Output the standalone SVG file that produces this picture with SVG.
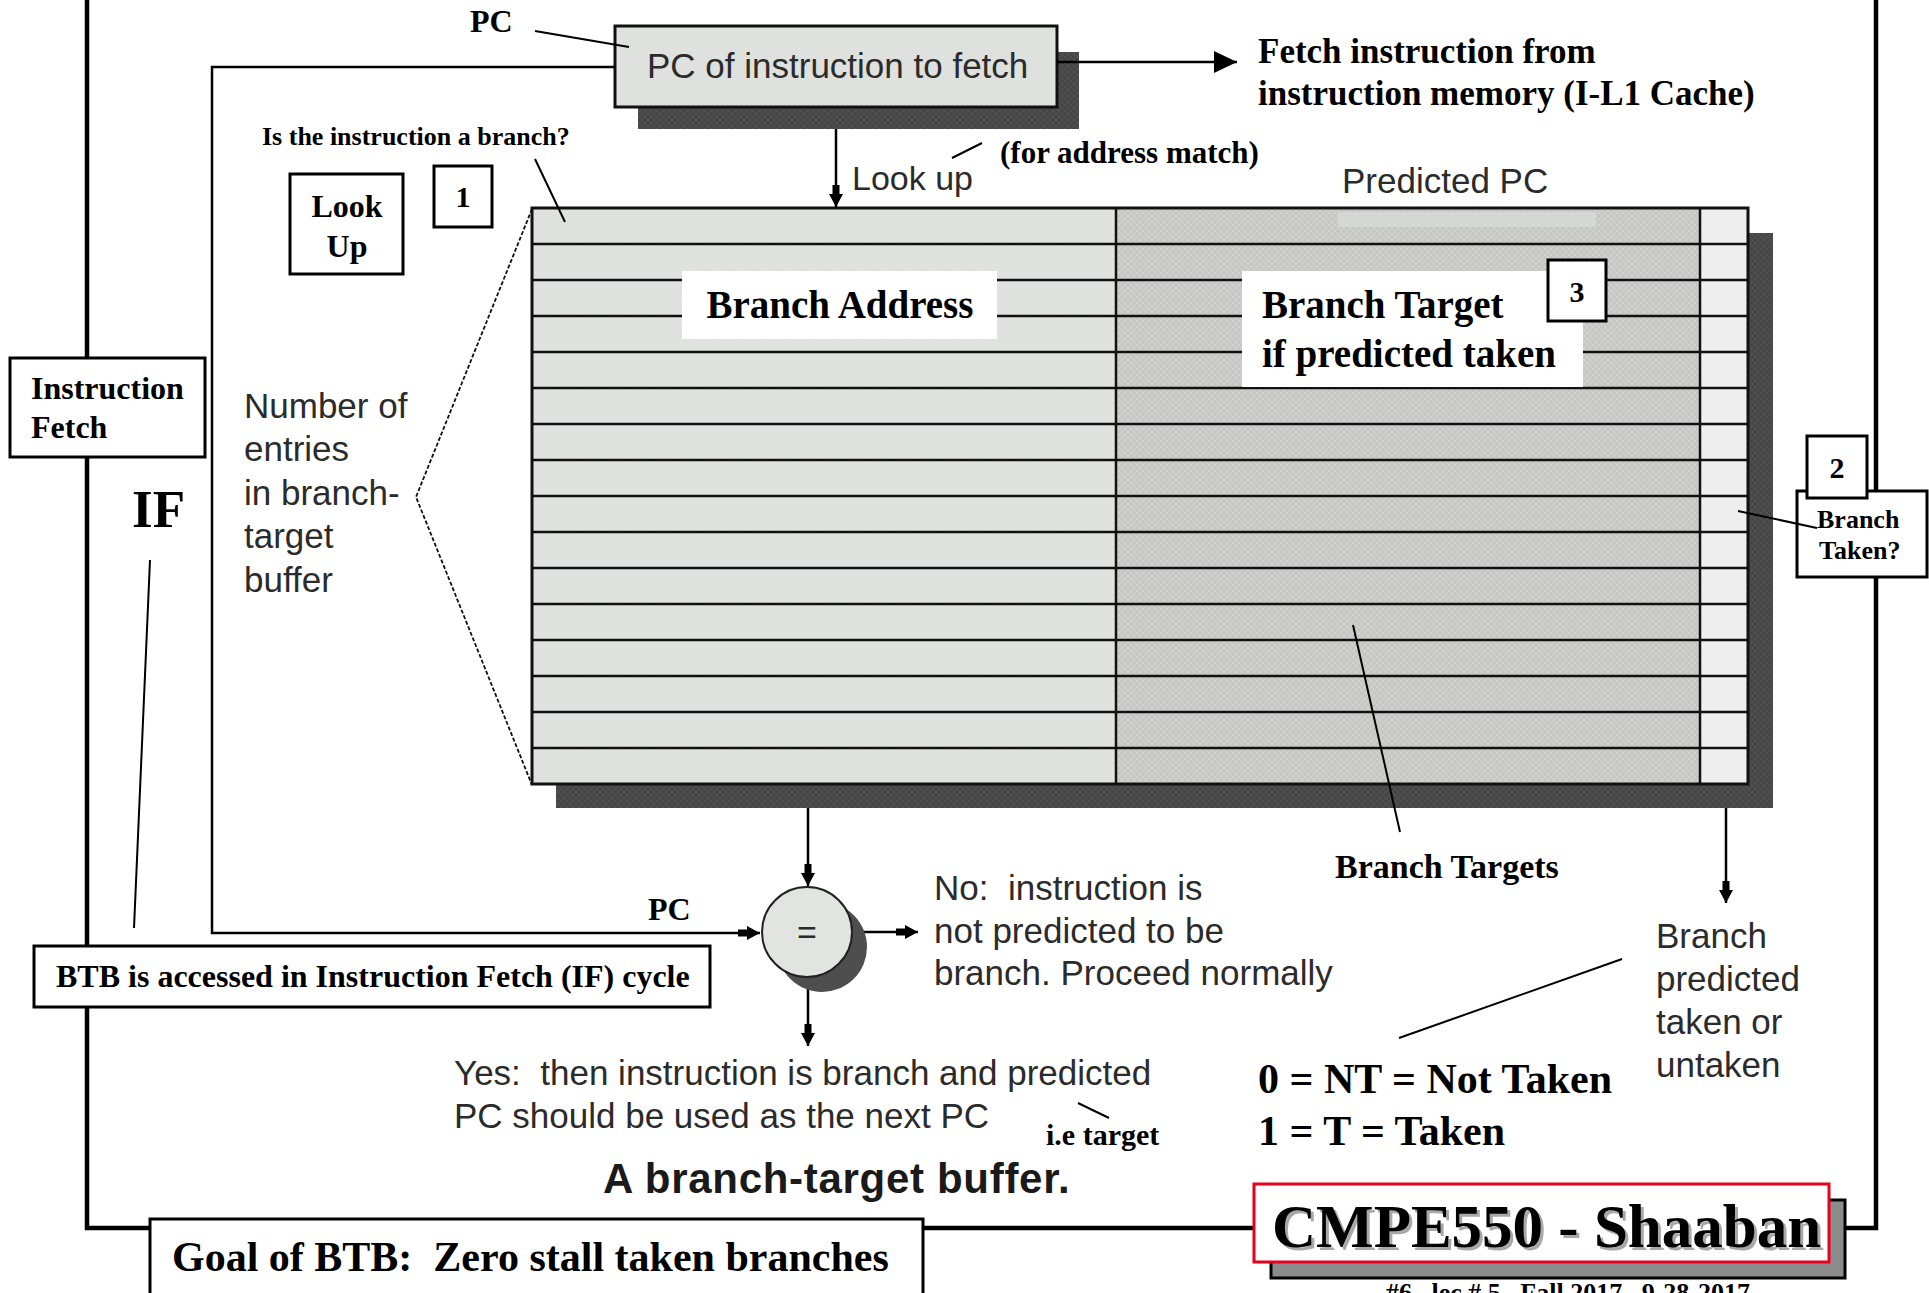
<svg xmlns="http://www.w3.org/2000/svg" width="1929" height="1293" viewBox="0 0 1929 1293">
<defs>
<style>
.tb{font-family:"Liberation Serif","Times New Roman",serif;font-weight:bold;fill:#000}
.hs{font-family:"Liberation Sans",Arial,sans-serif;fill:#2b2b2b}
.bx{fill:#fff;stroke:#000;stroke-width:3}
.ln{stroke:#000;stroke-width:2.5;fill:none}
.thin{stroke:#000;stroke-width:2;fill:none}
.row{stroke:#111;stroke-width:2.5}
</style>
<pattern id="hatch" width="6" height="6" patternUnits="userSpaceOnUse">
<rect width="6" height="6" fill="#c6c6c4"/>
<path d="M0,0 L6,6 M6,0 L0,6" stroke="#d2d2cf" stroke-width="1"/>
</pattern>
<pattern id="lite" width="6" height="6" patternUnits="userSpaceOnUse">
<rect width="6" height="6" fill="#dee1dd"/>
<path d="M0,0 L6,6" stroke="#e4e6e2" stroke-width="1"/>
</pattern>
<pattern id="dark" width="6" height="6" patternUnits="userSpaceOnUse">
<rect width="6" height="6" fill="#464646"/>
<path d="M0,0 L6,6 M6,0 L0,6" stroke="#525252" stroke-width="1"/>
</pattern>
<marker id="bolt" viewBox="-24 -8 24 16" markerWidth="24" markerHeight="16" refX="0" refY="0" orient="auto" markerUnits="userSpaceOnUse">
<path d="M-22,-3.5 L-13,-3.5 L-13,-7 L0,0 L-13,7 L-13,3.5 L-22,3.5 Z" fill="#000"/>
</marker>
<marker id="tri" viewBox="-24 -12 24 24" markerWidth="24" markerHeight="24" refX="0" refY="0" orient="auto" markerUnits="userSpaceOnUse">
<path d="M-23,-11 L0,0 L-23,11 Z" fill="#000"/>
</marker>
</defs>
<rect width="1929" height="1293" fill="#fff"/>

<!-- outer frame -->
<path d="M87,0 V1228 H1876 V0" fill="none" stroke="#000" stroke-width="4.5"/>

<!-- PC box -->
<g id="pc-box">
<rect x="638" y="52" width="441" height="77" fill="url(#dark)"/>
<rect x="615" y="26" width="442" height="81" fill="#dfe1de" stroke="#111" stroke-width="3"/>
<text class="hs" x="647" y="78" font-size="35">PC of instruction to fetch</text>
</g>
<text class="tb" x="470" y="32" font-size="32">PC</text>

<g id="fetch-label">
<text class="tb" x="1258" y="63" font-size="35">Fetch instruction from</text>
<text class="tb" x="1258" y="105" font-size="35">instruction memory (I-L1 Cache)</text>
</g>

<text class="tb" x="1000" y="163" font-size="31">(for address match)</text>
<text class="hs" x="852" y="190" font-size="34">Look up</text>
<text class="hs" x="1342" y="193" font-size="35">Predicted PC</text>
<text class="tb" x="262" y="145" font-size="26">Is the instruction a branch?</text>

<!-- BTB table -->
<g id="btb-table">
<rect x="556" y="233" width="1217" height="575" fill="url(#dark)"/>
<rect x="532" y="208" width="584" height="576" fill="url(#lite)"/>
<rect x="1116" y="208" width="584" height="576" fill="url(#hatch)"/>
<rect x="1700" y="208" width="48" height="576" fill="#eeeeee"/>
<rect x="1338" y="212" width="258" height="15" fill="#d4d7d2"/>
<g class="row">
<line x1="532" y1="244" x2="1748" y2="244"/>
<line x1="532" y1="280" x2="1748" y2="280"/>
<line x1="532" y1="316" x2="1748" y2="316"/>
<line x1="532" y1="352" x2="1748" y2="352"/>
<line x1="532" y1="388" x2="1748" y2="388"/>
<line x1="532" y1="424" x2="1748" y2="424"/>
<line x1="532" y1="460" x2="1748" y2="460"/>
<line x1="532" y1="496" x2="1748" y2="496"/>
<line x1="532" y1="532" x2="1748" y2="532"/>
<line x1="532" y1="568" x2="1748" y2="568"/>
<line x1="532" y1="604" x2="1748" y2="604"/>
<line x1="532" y1="640" x2="1748" y2="640"/>
<line x1="532" y1="676" x2="1748" y2="676"/>
<line x1="532" y1="712" x2="1748" y2="712"/>
<line x1="532" y1="748" x2="1748" y2="748"/>
<line x1="1116" y1="208" x2="1116" y2="784"/>
<line x1="1700" y1="208" x2="1700" y2="784"/>
</g>
<rect x="532" y="208" width="1216" height="576" fill="none" stroke="#111" stroke-width="3"/>
</g>

<!-- connectors -->
<g id="connectors">
<path class="ln" d="M615,67 H212 V933 H760" marker-end="url(#bolt)"/>
<path class="ln" d="M836,129 V207" marker-end="url(#bolt)"/>
<path class="ln" d="M1057,62 H1237" marker-end="url(#tri)"/>
<path class="ln" d="M808,808 V886" marker-end="url(#bolt)"/>
<path class="ln" d="M852,932 H918" marker-end="url(#bolt)"/>
<path class="ln" d="M808,977 V1046" marker-end="url(#bolt)"/>
<path class="ln" d="M1726,808 V903" marker-end="url(#bolt)"/>
<line class="thin" x1="535" y1="31" x2="629" y2="47"/>
<line class="thin" x1="535" y1="159" x2="565" y2="222"/>
<line class="thin" x1="952" y1="158" x2="982" y2="143"/>
<line class="thin" x1="150" y1="560" x2="134" y2="928"/>
<line class="thin" x1="1353" y1="625" x2="1400" y2="832"/>
<line class="thin" x1="1622" y1="959" x2="1399" y2="1038"/>
<line class="thin" x1="1078" y1="1103" x2="1109" y2="1118"/>
<path d="M532,209 L416,497 L532,785" fill="none" stroke="#111" stroke-width="1.8" stroke-dasharray="4,2"/>
</g>

<g id="branch-address">
<rect x="682" y="271" width="315" height="68" fill="#fff"/>
<text class="tb" x="840" y="318" font-size="39" text-anchor="middle">Branch Address</text>
</g>
<g id="branch-target">
<rect x="1242" y="271" width="341" height="116" fill="#fff"/>
<text class="tb" x="1262" y="318" font-size="39">Branch Target</text>
<text class="tb" x="1262" y="367" font-size="39">if predicted taken</text>
</g>
<g id="box3">
<rect class="bx" x="1548" y="260" width="58" height="61"/>
<text class="tb" x="1577" y="302" font-size="30" text-anchor="middle">3</text>
</g>

<g id="lookup-box">
<rect class="bx" x="290" y="174" width="113" height="100"/>
<text class="tb" x="347" y="217" font-size="32" text-anchor="middle">Look</text>
<text class="tb" x="347" y="257" font-size="32" text-anchor="middle">Up</text>
</g>
<g id="box1">
<rect class="bx" x="434" y="166" width="58" height="61"/>
<text class="tb" x="463" y="207" font-size="30" text-anchor="middle">1</text>
</g>

<g id="entries-label" class="hs" font-size="35">
<text x="244" y="418">Number of</text>
<text x="244" y="461">entries</text>
<text x="244" y="505">in branch-</text>
<text x="244" y="548">target</text>
<text x="244" y="592">buffer</text>
</g>

<g id="if-box">
<rect class="bx" x="10" y="358" width="195" height="99"/>
<text class="tb" x="31" y="399" font-size="32">Instruction</text>
<text class="tb" x="31" y="438" font-size="32">Fetch</text>
</g>
<text class="tb" x="132" y="527" font-size="53">IF</text>

<g id="btb-access">
<rect class="bx" x="34" y="946" width="676" height="61"/>
<text class="tb" x="56" y="987" font-size="32">BTB is accessed in Instruction Fetch (IF) cycle</text>
</g>

<text class="tb" x="648" y="920" font-size="32">PC</text>

<g id="comparator">
<circle cx="822" cy="947" r="45" fill="#4e4e4e"/>
<circle cx="807" cy="932" r="45" fill="#e2e4e2" stroke="#222" stroke-width="2"/>
<text class="hs" x="807" y="944" font-size="34" text-anchor="middle">=</text>
</g>

<g id="no-label" class="hs" font-size="35">
<text x="934" y="900">No:&#160; instruction is</text>
<text x="934" y="943">not predicted to be</text>
<text x="934" y="985">branch. Proceed normally</text>
</g>

<g id="yes-label" class="hs" font-size="35">
<text x="454" y="1085">Yes:&#160; then instruction is branch and predicted</text>
<text x="454" y="1128">PC should be used as the next PC</text>
</g>
<text class="tb" x="1046" y="1145" font-size="30">i.e target</text>
<text x="603" y="1193" font-family="'Liberation Sans',Arial,sans-serif" font-weight="bold" font-size="42" letter-spacing="0.7" fill="#1a1a1a">A branch-target buffer.</text>

<text class="tb" x="1335" y="878" font-size="34">Branch Targets</text>

<g id="predicted-label" class="hs" font-size="35">
<text x="1656" y="948">Branch</text>
<text x="1656" y="991">predicted</text>
<text x="1656" y="1034">taken or</text>
<text x="1656" y="1077">untaken</text>
</g>

<g id="legend">
<text class="tb" x="1258" y="1093" font-size="42">0 = NT = Not Taken</text>
<text class="tb" x="1258" y="1145" font-size="42">1 = T = Taken</text>
</g>

<g id="taken-box">
<rect class="bx" x="1797" y="491" width="130" height="86"/>
<text class="tb" x="1817" y="528" font-size="26">Branch</text>
<text class="tb" x="1819" y="559" font-size="26">Taken?</text>
<line class="thin" x1="1738" y1="511" x2="1817" y2="528"/>
</g>
<g id="box2">
<rect class="bx" x="1807" y="436" width="60" height="62"/>
<text class="tb" x="1837" y="478" font-size="30" text-anchor="middle">2</text>
</g>

<g id="goal-box">
<rect class="bx" x="150" y="1219" width="773" height="100"/>
<text class="tb" x="172" y="1271" font-size="42">Goal of BTB:&#160; Zero stall taken branches</text>
</g>

<g id="title-box">
<rect x="1271" y="1200" width="574" height="78" fill="#8c8c8c" stroke="#000" stroke-width="3"/>
<rect x="1254" y="1184" width="575" height="78" fill="#fff" stroke="#e8001c" stroke-width="3"/>
<text class="tb" x="1275" y="1250" font-size="61" style="fill:#a8a8a8">CMPE550 - Shaaban</text>
<text class="tb" x="1272" y="1247" font-size="61">CMPE550 - Shaaban</text>
</g>
<text class="tb" x="1386" y="1301" font-size="26">#6&#160;&#160; lec # 5&#160;&#160; Fall 2017&#160;&#160; 9-28-2017</text>
</svg>
